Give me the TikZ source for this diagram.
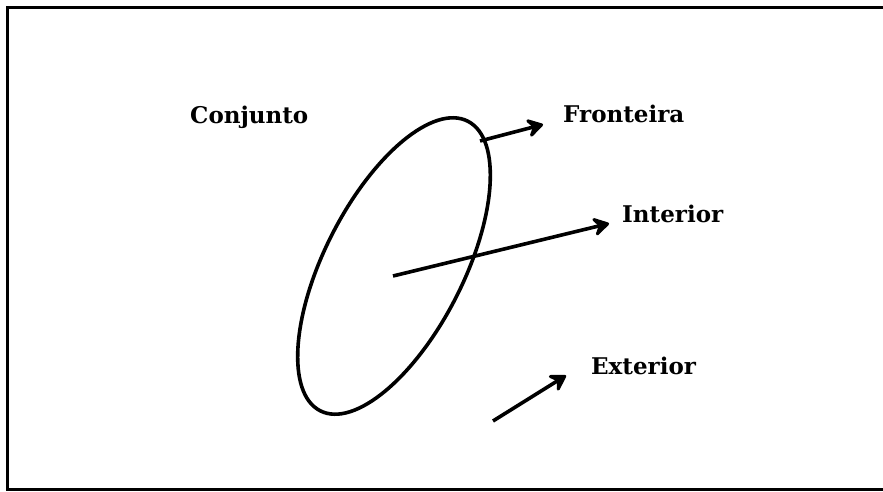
\documentclass[tikz,border=0pt]{standalone}
\usepackage{fontspec}
\setmainfont{DejaVu Serif}
\usetikzlibrary{shapes.geometric,arrows.meta}
\tikzset{
  lbl/.style={anchor=base west, inner sep=0pt, font=\fontsize{23}{27}\selectfont\bfseries},
  arr/.style={line width=3.6pt, -{Stealth[length=20pt,width=24pt,inset=8pt,round]}},
}
\begin{document}
\begin{tikzpicture}[x=1pt,y=-1pt]
\useasboundingbox (0,0) rectangle (883,492);
\fill[white] (0,0) rectangle (883,492);
\draw[line width=3.5pt] (883,7.5) -- (7.5,7.5) -- (7.5,489.5) -- (883,489.5);
\node[ellipse, draw, line width=3.6pt, minimum width=325pt, minimum height=139pt, inner sep=0pt, rotate=63] (set) at (394,266) {};
\node[lbl] (conj) at (190,123.3) {Conjunto};
\node[lbl] (fron) at (563,122.7) {Fronteira};
\node[lbl] (inte) at (622,222.3) {Interior};
\node[lbl] (exte) at (591,374.3) {Exterior};
\coordinate (fs) at (480,141);
\coordinate (fe) at (543,124.5);
\coordinate (is) at (393,276);
\coordinate (ie) at (609,223.5);
\coordinate (es) at (493,421);
\coordinate (ee) at (566,375.5);
\draw[arr] (fs) -- (fe);
\draw[arr] (is) -- (ie);
\draw[arr] (es) -- (ee);
\end{tikzpicture}
\end{document}
